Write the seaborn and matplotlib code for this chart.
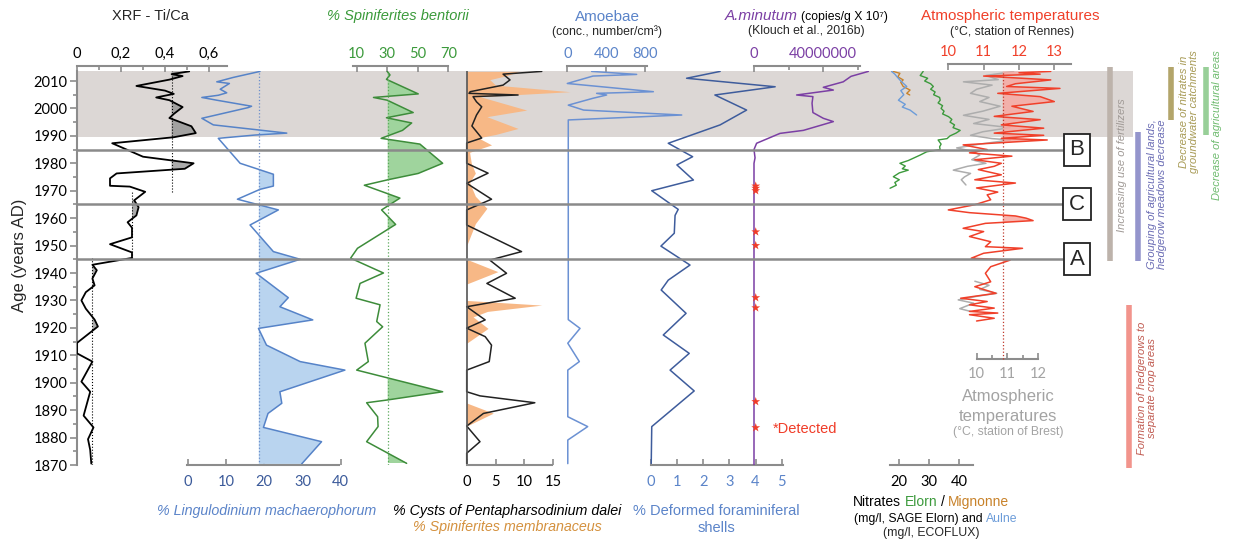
import numpy as np
import seaborn as sns
import matplotlib
matplotlib.use("Agg")
from matplotlib import pyplot as plt

"""
DATA (ages in years AD, values read off the reference figure)
"""

xrf_years = [2013.5, 2012.5, 2011.8, 2010.5, 2008.2, 2006.5, 2005.3, 2004, 2003, 2000.5, 1998, 1996.5,
             1993.5, 1991, 1989.5, 1987.3, 1982.4, 1980, 1978, 1976.3, 1974.5, 1971.8, 1971.5, 1969.6,
             1966.5, 1964, 1961, 1958.5, 1956.5, 1953, 1950.5, 1947.5, 1945.5, 1943, 1941, 1938, 1935.5,
             1933, 1930, 1927, 1923, 1920.5, 1914.5, 1910.7, 1907.7, 1900.4, 1896.7, 1888, 1883.7,
             1879.4, 1875.5, 1870.5]
xrf_vals = [0.51, 0.43, 0.48, 0.42, 0.27, 0.40, 0.44, 0.36, 0.42, 0.48, 0.44, 0.42,
            0.52, 0.54, 0.44, 0.16, 0.30, 0.53, 0.49, 0.18, 0.15, 0.15, 0.24, 0.31,
            0.26, 0.28, 0.27, 0.23, 0.25, 0.25, 0.15, 0.25, 0.25, 0.07, 0.09, 0.07, 0.08,
            0.04, 0.02, 0.04, 0.08, 0.095, 0.0, 0.0, 0.07, 0.02, 0.06, 0.03, 0.075,
            0.05, 0.06, 0.065]
# mean levels of the three zones (top, middle, bottom)
xrf_means = [0.43, 0.25, 0.07]
xrf_zone_limits = [1969.6, 1945.3]

ling_years = [2013.5, 2011.3, 2009.7, 2009.1, 2007, 2005.7, 2004.8, 2004, 2003, 2000.8, 2000.3, 1996.4,
              1994, 1991, 1990.3, 1989.1, 1980, 1977.8, 1976, 1971.7, 1970.5, 1966.9, 1963, 1957.5,
              1947.8, 1945, 1939.9, 1931, 1927.7, 1922.9, 1919.8, 1913.7, 1907.7, 1904.6, 1896.7,
              1892.5, 1888.8, 1883.7, 1878.5, 1870.4]
ling_vals = [18.9, 11.9, 7.6, 10.9, 8.5, 10.2, 8.0, 3.7, 7.6, 16.7, 15.8, 3.7,
             6.7, 25.9, 17.6, 8.0, 13.7, 18.5, 22.4, 22.4, 18.9, 13.0, 23.7, 16.3,
             22.4, 29.4, 17.9, 26.3, 24.1, 32.7, 18.5, 20.6, 29.4, 41.1, 24.1,
             24.6, 21.0, 19.8, 35.0, 29.8]
ling_mean = 18.6

bent_years = [2013.5, 2012.2, 2010.6, 2005.3, 2004, 2003, 1998.5, 1996.6, 1994.7, 1992, 1989.1, 1987,
              1980, 1976.3, 1974, 1972, 1967.3, 1963, 1957.7, 1949, 1945.4, 1940, 1936.2, 1930.8,
              1928.4, 1922.3, 1920.4, 1914.4, 1907.7, 1904.6, 1896.7, 1893.7, 1892.7, 1887.6, 1884,
              1878.5, 1870.6]
bent_vals = [30, 31.8, 29.5, 50.3, 21, 30, 47, 29.5, 46, 40, 26, 51.4,
             66.3, 50.3, 30.5, 15, 38.3, 26.3, 35.5, 10.5, 6, 27.5, 12.2, 9.6,
             25.3, 23.1, 27, 15.4, 17.6, 10, 66.3, 30, 16.5, 23.7, 24,
             16.5, 42.7]
bent_mean = 30.3

memb_years = [2013.5, 2012, 2010.5, 2008.5, 2006.1, 2004.3, 1999.4, 1997, 1992.7, 1990.5, 1989.3, 1986.7,
              1984, 1980, 1976.4, 1973, 1968, 1963.6, 1958, 1950, 1945, 1940.5, 1936, 1930, 1928.3,
              1926, 1924, 1919.8, 1914.4, 1892.6, 1888.9, 1884.2, 1870]
memb_vals = [9, 7, 4, 5, 17.9, 2.3, 10.4, 3.5, 8.9, 5, 2, 4.3,
             0.5, 0.8, 1.5, 0.5, 1.5, 3.5, 1.5, 0, 0, 5.4, 0, 0, 13,
             3.6, 1.1, 3.7, 0, 0, 4.6, 0, 0]

dalei_years = [2013.5, 2012.5, 2010.4, 2008.5, 2006.1, 2005.5, 2004.9, 2004.3, 2002.4, 2000.6, 1997.6,
               1993.6, 1989.2, 1987.4, 1980, 1976.4, 1972.7, 1966.9, 1963, 1957.5, 1947.8, 1944.7,
               1939.9, 1936.2, 1930.8, 1927.7, 1922.9, 1919.9, 1916.8, 1913.7, 1907.7, 1904.6, 1896.7,
               1895.2, 1892.7, 1888.8, 1884.2, 1878.5, 1874.3, 1870.5]
dalei_vals = [13, 6.3, 7.5, 6.3, 0.6, 0.4, 8.9, 1.1, 1.7, 2.6, 1.7,
              0.9, 2.6, 0, 0, 3.7, 0, 4.3, 0, 0, 9.5, 4.0,
              6.9, 3.5, 8.4, 0, 3.2, 0, 3.2, 4.3, 3.9, 0, 0,
              2.3, 11.8, 2.9, 0, 2.3, 0, 0]

amoeb_years = [2013.5, 2012.4, 2011.8, 2009.1, 2006.1, 2005.5, 2004.9, 2003.7, 2001.2, 1999.4, 1997.6,
               1995.8, 1923, 1919.8, 1914.4, 1907.7, 1904.6, 1887.6, 1884, 1879.1, 1870.5]
amoeb_vals = [251, 714, 264, 0, 886, 302, 405, 264, 10, 168, 1178,
              10, 10, 131, 5, 124, 5, 5, 210, 5, 5]

foram_years = [2013.5, 2011, 2007.9, 2004.9, 1999.4, 1994, 1987.3, 1982.4, 1979.4, 1973.9, 1970, 1963.2,
               1961, 1954.5, 1949.8, 1942.9, 1937.4, 1933.8, 1925.3, 1917.4, 1910.7, 1904.6, 1897,
               1884, 1870.5]
foram_vals = [2.65, 1.37, 4.75, 2.45, 3.66, 2.65, 0.67, 1.6, 1.0, 1.63, 0.04, 1.05,
              0.93, 0.9, 0.39, 1.5, 0.67, 0.4, 1.35, 0.48, 1.47, 0.74, 1.66,
              0.04, 0.02]

amin_years = [2013.5, 2011.7, 2009.7, 2007.7, 2006.7, 2004.9, 2004.3, 2001.9, 1998.5, 1996.4, 1995.2,
              1992, 1990.9, 1987.3, 1985, 1982, 1980, 1870]
amin_vals = [66e6, 56e6, 51.5e6, 40e6, 45.8e6, 24.6e6, 34e6, 33.5e6, 34e6, 40e6, 45.8e6,
             28.5e6, 15e6, 1.5e6, 0, 0.6e6, 0, 0]
amin_detected = [1971.7, 1970.9, 1970, 1955, 1950, 1931, 1927.3, 1893.1, 1883.6]

elorn_years = [2013.5, 2012, 2011, 2010, 2009, 2008, 2007, 2006, 2005, 2004, 2003, 2002, 2001, 2000,
               1999, 1998, 1997, 1996, 1995, 1994, 1993, 1992, 1991, 1990, 1989, 1988.5, 1987, 1986,
               1985, 1984.2, 1983, 1982, 1981, 1980, 1979, 1978, 1977.5, 1976.5, 1975.1, 1974, 1973,
               1972, 1970.9]
elorn_vals = [28, 27, 29.5, 28.5, 30.5, 31.4, 30.5, 32, 31.5, 33.5, 33.7, 33, 34.5, 34,
              35, 34.5, 36.5, 37.6, 37, 38.5, 38, 40.4, 39, 37, 36, 33, 34, 33.5,
              33.7, 29.2, 27, 25, 23, 20.2, 22, 21, 23, 20, 18, 20, 18.5,
              19, 16.9]
mign_years = [2013.5, 2012.8, 2011.5, 2010.4, 2009.5, 2008, 2006.7, 2005.5, 2004.9]
mign_vals = [17.9, 20.2, 19.5, 21.3, 20.5, 21.3, 23.6, 22.5, 23.5]
aulne_years = [2013.5, 2012.5, 2011.7, 2010, 2008, 2006.5, 2005, 2003, 2001.5, 2000.5, 1999.4, 1997.6]
aulne_vals = [17.4, 18.5, 19.1, 20.5, 22.5, 20.5, 21.5, 19.7, 22, 21, 23.6, 25.8]

brest_years_a = [2013.5, 2012, 2010.5, 2009.7, 2008.5, 2007, 2005.5, 2004, 2002.5, 2000.8, 1999, 1997.5,
                 1996, 1994.5, 1993, 1991.5, 1990.2, 1989, 1988.5, 1987, 1985.6, 1984.3, 1983, 1981.3,
                 1980, 1978.9, 1977.5, 1976.3, 1975, 1974, 1972.1]
brest_vals_a = [11.2, 10.3, 10.7, 9.57, 10.5, 10.0, 9.8, 10.4, 10.1, 10.76, 10.2, 9.57,
                10.4, 9.9, 11.08, 10.2, 9.8, 10.5, 11.1, 10.1, 9.35, 9.9, 10.1, 9.84,
                10.3, 9.7, 9.24, 9.8, 9.6, 9.5, 9.65]
brest_years_b = [1937, 1935.5, 1934, 1932.6, 1931.5, 1930.2, 1929, 1927, 1926]
brest_vals_b = [9.94, 10.4, 10.1, 10.65, 10.0, 9.4, 9.9, 9.45, 9.8]

rennes_years = [2013.5, 2013, 2012.5, 2011.8, 2010.4, 2009, 2008, 2007.3, 2005.5, 2004.3, 2002.5, 2000.8,
                1998.9, 1997.1, 1995.9, 1994, 1992.8, 1991, 1990.2, 1989.1, 1988.5, 1986.7, 1985,
                1983.8, 1982.6, 1981.3, 1980, 1978.9, 1977.7, 1975.8, 1974, 1972.8, 1971, 1969.5,
                1968.5, 1966.7, 1964.9, 1963, 1962, 1960.8, 1960, 1959.1, 1958.1, 1956.3, 1955.1,
                1953.3, 1951.4, 1949.6, 1949, 1947.2, 1945.4, 1944.7, 1942.3, 1939.9, 1936.8, 1935,
                1932.6, 1930.8, 1929.6, 1928.4, 1927.2, 1926, 1925.4, 1924.8, 1923.5, 1922.5]
rennes_vals = [12.9, 12.0, 12.6, 11.0, 12.9, 11.9, 11.65, 13.16, 11.4, 12.6, 13.0, 11.8,
               12.4, 11.3, 12.6, 11.5, 12.7, 11.3, 12.7, 11.5, 12.8, 10.42, 11.1,
               10.6, 11.8, 10.75, 11.5, 11.3, 10.85, 11.5, 10.75, 11.9, 10.8, 11.4,
               11.1, 11.2, 10.75, 10.0, 10.6, 11.9, 12.2, 12.4, 11.05, 10.42, 11.0,
               10.6, 11.2, 11.05, 12.1, 11.0, 10.65, 11.75, 11.2, 11.05, 11.2, 10.75,
               11.35, 10.35, 11.1, 10.6, 11.3, 10.6, 11.4, 10.6, 11.3, 10.8]
rennes_mean = 11.54

zone_lines = [1985, 1965, 1945]
zone_names = ["B", "C", "A"]

events = [
    ("Increasing use of fertilizers", "#bdb3ab", "#a09a96", 1944.5, 2015.2),
    ("Grouping of agricultural lands,\nhedgerow meadows decrease", "#9495cc", "#6a6cb4", 1944.2, 1991.5),
    ("Decrease of nitrates in\ngroundwater catchments", "#b3a56a", "#a79a55", 1995.8, 2015.2),
    ("Decrease of agricultural areas", "#98cf98", "#6fbb6f", 1990.3, 2015.2),
    ("Formation of hedgerows to\nseparate crop areas", "#f2948c", "#c05a50", 1868.9, 1928.3),
]

"""
LAYOUT
"""
W, H = 1233, 547
X_LEFT, X_RIGHT = 77, 1233
Y_TOP, Y_BOT = 71.4, 465
AGE_MIN, AGE_MAX = 1870, 2013.5
AX_GRAY = "#8c8c8c"
BLUE = "#5b84c9"

sns.set_theme(style="white")
plt.rcParams['font.family'] = ['Liberation Sans', 'DejaVu Sans']

fig = plt.figure(figsize=(W / 100, H / 100), dpi=100)
rect = [X_LEFT / W, 1 - Y_BOT / H, (X_RIGHT - X_LEFT) / W, (Y_BOT - Y_TOP) / H]


def fx(px):
    return px / W


def fy(py):
    return 1 - py / H


def new_axes():
    ax = fig.add_axes(rect)
    ax.patch.set_visible(False)
    for s in ax.spines.values():
        s.set_visible(False)
    return ax


def track_lims(p0, v0, p1, v1):
    # x-limits so that value v0 sits at pixel p0 and v1 at p1
    ppu = (p1 - p0) / (v1 - v0)
    return (v0 + (X_LEFT - p0) / ppu, v0 + (X_RIGHT - p0) / ppu)


def finish(ax, lims, side, bounds, ticks, labels, color, minor=None, outward=4, pad=3.5, pos=None):
    ax.set_xlim(*lims)
    ax.set_ylim(AGE_MIN, AGE_MAX)
    ax.set_xlabel("")
    ax.set_ylabel("")
    ax.set_yticks([])
    sp = ax.spines[side]
    sp.set_visible(True)
    sp.set_bounds(*bounds)
    sp.set_color(AX_GRAY)
    sp.set_linewidth(1.5)
    if pos is not None:
        sp.set_position(("data", pos))
    elif side == "top":
        sp.set_position(("outward", outward))
    ax.xaxis.set_ticks_position(side)
    ax.set_xticks(ticks)
    ax.set_xticklabels(labels)
    if minor is not None:
        ax.set_xticks(minor, minor=True)
    ax.tick_params(axis="x", which="both", direction="in", color=AX_GRAY, width=1.2,
                   labelcolor=color, labelsize=10.5, pad=pad, labelfontfamily="Lato")
    ax.tick_params(axis="x", which="major", length=4)
    ax.tick_params(axis="x", which="minor", length=3)
    if side == "top":
        ax.tick_params(axis="x", which="both", top=True, bottom=False, labeltop=True, labelbottom=False)
    else:
        ax.tick_params(axis="x", which="both", top=False, bottom=True, labeltop=False, labelbottom=True)


def line(ax, vals, years, color, lw=1.2, **kw):
    sns.lineplot(x=vals, y=years, sort=False, estimator=None, color=color, linewidth=lw, ax=ax, **kw)


"""
BACKGROUND + AGE AXIS
"""
ax0 = fig.add_axes(rect)
ax0.patch.set_visible(False)
ax0.set_xlim(X_LEFT, X_RIGHT)
ax0.set_ylim(AGE_MIN, AGE_MAX)
ax0.axhspan(1989.5, AGE_MAX, xmin=0, xmax=(1133 - X_LEFT) / (X_RIGHT - X_LEFT),
            color="#dcd7d5", lw=0, zorder=0)
for k, s in ax0.spines.items():
    s.set_visible(k == "left")
ax0.spines["left"].set_color(AX_GRAY)
ax0.spines["left"].set_linewidth(1.5)
ax0.set_xticks([])
ax0.set_yticks(range(1870, 2011, 10))
ax0.set_yticks(range(1875, 2010, 10), minor=True)
ax0.tick_params(axis="y", which="both", direction="out", left=True, color=AX_GRAY, width=1.2,
                labelsize=10.5, pad=2, labelfontfamily="Lato", labelcolor="black")
ax0.tick_params(axis="y", which="major", length=5)
ax0.tick_params(axis="y", which="minor", length=3)
fig.text(fx(20), fy(255), "Age (years AD)", rotation=90, ha="center", va="center", fontsize=12)

"""
TRACKS
"""
# XRF Ti/Ca
ax = new_axes()
yrs = np.array(xrf_years)
v = np.array(xrf_vals)
ref = np.where(yrs >= xrf_zone_limits[0], xrf_means[0],
               np.where(yrs >= xrf_zone_limits[1], xrf_means[1], xrf_means[2]))
ax.fill_betweenx(yrs, ref, v, where=v > ref, interpolate=True, color="#8f8f8f", alpha=0.75, lw=0)
line(ax, xrf_vals, xrf_years, "black", lw=1.3)
ax.vlines(xrf_means[0], xrf_zone_limits[0], AGE_MAX, colors="black", linestyles=":", lw=0.8)
ax.vlines(xrf_means[1], xrf_zone_limits[1], xrf_zone_limits[0], colors="black", linestyles=":", lw=0.8)
ax.vlines(xrf_means[2], AGE_MIN, xrf_zone_limits[1], colors="black", linestyles=":", lw=0.8)
finish(ax, track_lims(77, 0, 209, 0.6), "top", (0, 0.68), [0, 0.2, 0.4, 0.6],
       ["0", "0,2", "0,4", "0,6"], "black", minor=[0.1, 0.3, 0.5])

# Lingulodinium machaerophorum
ax = new_axes()
v = np.array(ling_vals)
ax.fill_betweenx(ling_years, ling_mean, v, where=v > ling_mean, interpolate=True,
                 color="#b9d4ef", lw=0)
line(ax, ling_vals, ling_years, "#5683c8", lw=1.1)
ax.axvline(ling_mean, color="#6c8fcc", ls=":", lw=0.9)
finish(ax, track_lims(187.7, 0, 340.7, 40), "bottom", (-0.3, 39.6), [0, 10, 20, 30, 40],
       ["0", "10", "20", "30", "40"], "#3b5a9a", pad=7)

# Spiniferites bentorii
ax = new_axes()
v = np.array(bent_vals)
ax.fill_betweenx(bent_years, bent_mean, v, where=v > bent_mean, interpolate=True,
                 color="#9fd49d", lw=0)
line(ax, bent_vals, bent_years, "#3d8c3a", lw=1.1)
ax.axvline(bent_mean, color="#5aa85a", ls=":", lw=0.9)
finish(ax, track_lims(356.7, 10, 448.3, 70), "top", (7.4, 70), [10, 30, 50, 70],
       ["10", "30", "50", "70"], "#3b9a3b")

# Pentapharsodinium dalei + Spiniferites membranaceus
ax = new_axes()
ax.fill_betweenx(memb_years, 0, memb_vals, color="#f7b886", lw=0)
line(ax, dalei_vals, dalei_years, "#222222", lw=1.1)
ax.axvline(0, color="#555555", lw=1.2)
finish(ax, track_lims(466.7, 0, 553.3, 15), "bottom", (0, 14.7), [0, 5, 10, 15],
       ["0", "5", "10", "15"], "black", pad=7)

# Amoebae
ax = new_axes()
line(ax, amoeb_vals, amoeb_years, "#6b91d3", lw=1.1)
finish(ax, track_lims(567.3, 0, 645, 800), "top", (0, 820), [0, 400, 800],
       ["0", "400", "800"], BLUE)

# Deformed foraminifera
ax = new_axes()
line(ax, foram_vals, foram_years, "#3e5c9c", lw=1.1)
finish(ax, track_lims(650.7, 0, 781.7, 5), "bottom", (0, 5.05), [0, 1, 2, 3, 4, 5],
       ["0", "1", "2", "3", "4", "5"], BLUE, pad=7)

# A. minutum
ax = new_axes()
line(ax, amin_vals, amin_years, "#7b3fa4", lw=1.1)
sns.scatterplot(x=[1e6] * len(amin_detected), y=amin_detected, marker="*", s=45,
                color="#f03c28", edgecolor="none", ax=ax, zorder=5)
finish(ax, track_lims(754, 0, 823.3, 40e6), "top", (0, 61e6), [0, 40e6],
       ["0", "40000000"], "#7b3fa4", minor=[20e6, 60e6])

# Nitrates
ax = new_axes()
line(ax, elorn_vals, elorn_years, "#3c9a3c", lw=1.0)
line(ax, mign_vals, mign_years, "#c8822a", lw=1.0)
line(ax, aulne_vals, aulne_years, "#6c9cd9", lw=1.0)
finish(ax, track_lims(899.3, 20, 959, 40), "bottom", (16.9, 44.8), [20, 30, 40],
       ["20", "30", "40"], "black", pad=7)

# Brest temperatures
ax = new_axes()
line(ax, brest_vals_a, brest_years_a, "#adadad", lw=1.1)
line(ax, brest_vals_b, brest_years_b, "#adadad", lw=1.1)
finish(ax, track_lims(976.7, 10, 1038.3, 12), "bottom", (10, 12), [10, 11, 12],
       ["10", "11", "12"], "#a3a3a3", minor=[10.5, 11.5], pad=6, pos=1908.6)

# Rennes temperatures
ax = new_axes()
v = np.array(rennes_vals)
ax.fill_betweenx(rennes_years, rennes_mean, v, where=v > rennes_mean, interpolate=True,
                 color="#f7aaa3", alpha=0.85, lw=0)
line(ax, rennes_vals, rennes_years, "#f0402a", lw=1.1)
ax.vlines(rennes_mean, 1908.6, AGE_MAX, colors="#c0392b", linestyles=":", lw=0.9)
finish(ax, track_lims(948.3, 10, 1054.3, 13), "top", (10, 13.47), [10, 11, 12, 13],
       ["10", "11", "12", "13"], "#f0402a", outward=5.5)

"""
OVERLAY: zone lines, labels, event bars
"""
axt = new_axes()
axt.set_xlim(X_LEFT, X_RIGHT)
axt.set_ylim(AGE_MIN, AGE_MAX)
axt.set_xticks([])
axt.set_yticks([])
axt.hlines(zone_lines, X_LEFT, 1063, colors="#8a8a8a", lw=1.8)
for yv, name in zip(zone_lines, zone_names):
    axt.text(1077, yv, name, ha="center", va="center", fontsize=16,
             bbox=dict(boxstyle="square,pad=0.25", fc="white", ec="#222222", lw=1.3))

ev_x = [1110, 1138, 1171, 1206, 1129]
ev_tx = [1122, 1157, 1189, 1217, 1147]
ev_ty = [165, 194, 112, 125, 388]
for (label, bar_c, txt_c, y0, y1), bx, tx, ty in zip(events, ev_x, ev_tx, ev_ty):
    axt.vlines(bx, y0, y1, colors=bar_c, lw=4, clip_on=False)
    fig.text(fx(tx), fy(ty), label, rotation=90, ha="center", va="center", fontsize=8,
             style="italic", color=txt_c, multialignment="center", linespacing=1.05)

"""
TITLES AND LABELS
"""


def rainbow(cx, py, pieces):
    # pieces: (text, gap after in px, text kwargs)
    r = fig.canvas.get_renderer()
    arts = [fig.text(0, fy(py), s, ha="left", va="baseline", **kw) for s, g, kw in pieces]
    widths = [t.get_window_extent(r).width + g for t, (s, g, kw) in zip(arts, pieces)]
    x = cx - sum(widths) / 2
    for t, w in zip(arts, widths):
        t.set_x(fx(x))
        x += w


fig.text(fx(150), fy(16), "XRF - Ti/Ca", ha="center", va="center", fontsize=10.5)
fig.text(fx(398), fy(16), "% Spiniferites bentorii", ha="center", va="center", fontsize=10.5,
         style="italic", color="#3b9a3b")
fig.text(fx(607), fy(17), "Amoebae", ha="center", va="center", fontsize=11, color=BLUE)
fig.text(fx(607), fy(32), "(conc., number/cm³)", ha="center", va="center", fontsize=8.8)
rainbow(806, 20, [("A.minutum", 3, dict(fontsize=11, style="italic", color="#7b3fa4")),
                  ("(copies/g X 10⁷)", 0, dict(fontsize=8.8, color="black"))])
fig.text(fx(806), fy(31), "(Klouch et al., 2016b)", ha="center", va="center", fontsize=8.8)
fig.text(fx(1010), fy(16), "Atmospheric temperatures", ha="center", va="center", fontsize=11,
         color="#f0402a")
fig.text(fx(1012), fy(32), "(°C, station of Rennes)", ha="center", va="center", fontsize=8.8)

fig.text(fx(267), fy(511), "% Lingulodinium machaerophorum", ha="center", va="center",
         fontsize=10.3, style="italic", color=BLUE)
fig.text(fx(507), fy(511), "% Cysts of Pentapharsodinium dalei", ha="center", va="center",
         fontsize=10.3, style="italic", color="black")
fig.text(fx(507), fy(527), "% Spiniferites membranaceus", ha="center", va="center",
         fontsize=10.3, style="italic", color="#d4913e")
fig.text(fx(716), fy(511), "% Deformed foraminiferal", ha="center", va="center",
         fontsize=10.5, color=BLUE)
fig.text(fx(716), fy(528), "shells", ha="center", va="center", fontsize=10.5, color=BLUE)
fig.text(fx(773), fy(429), "*Detected", ha="left", va="center", fontsize=10.5, color="#f03c28")

rainbow(931, 506, [("Nitrates", 4, dict(fontsize=10, color="black")),
                   ("Elorn", 3, dict(fontsize=10, color="#3c9a3c")),
                   ("/", 3, dict(fontsize=10, color="black")),
                   ("Mignonne", 0, dict(fontsize=10, color="#c8822a"))])
rainbow(936, 522, [("(mg/l, SAGE Elorn) and", 3, dict(fontsize=8.8, color="black")),
                   ("Aulne", 0, dict(fontsize=8.8, color="#6c9cd9"))])
fig.text(fx(931), fy(533), "(mg/l, ECOFLUX)", ha="center", va="center", fontsize=8.8)

fig.text(fx(1008), fy(397), "Atmospheric", ha="center", va="center", fontsize=12, color="#a3a3a3")
fig.text(fx(1008), fy(416), "temperatures", ha="center", va="center", fontsize=12, color="#a3a3a3")
fig.text(fx(1008), fy(432), "(°C, station of Brest)", ha="center", va="center", fontsize=8.8,
         color="#a3a3a3")

fig.savefig("out.png", dpi=100)
